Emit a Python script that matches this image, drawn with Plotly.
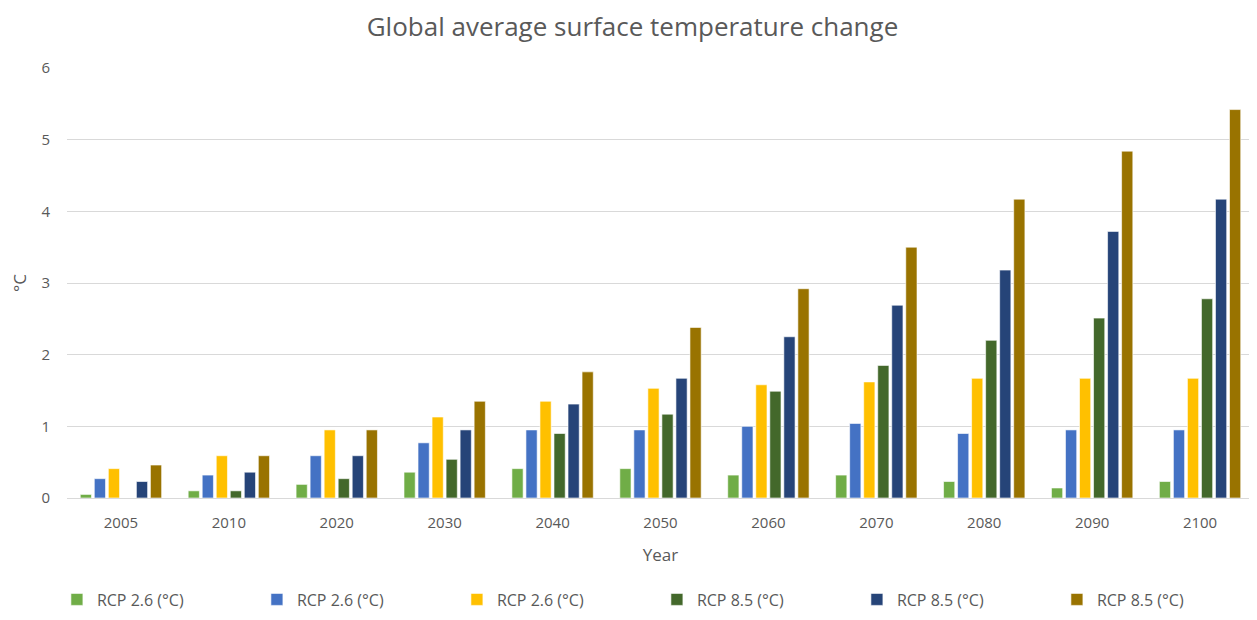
import plotly.graph_objects as go

years = ["2005", "2010", "2020", "2030", "2040", "2050", "2060", "2070", "2080", "2090", "2100"]

rcp26_a = [0.05, 0.10, 0.19, 0.36, 0.41, 0.41, 0.32, 0.32, 0.23, 0.14, 0.23]
rcp26_b = [0.27, 0.32, 0.59, 0.77, 0.95, 0.95, 1.00, 1.04, 0.90, 0.95, 0.95]
rcp26_c = [0.41, 0.59, 0.95, 1.13, 1.35, 1.53, 1.58, 1.62, 1.67, 1.67, 1.67]
rcp85_a = [0.00, 0.10, 0.27, 0.54, 0.90, 1.17, 1.49, 1.85, 2.20, 2.51, 2.78]
rcp85_b = [0.23, 0.36, 0.59, 0.95, 1.31, 1.67, 2.25, 2.69, 3.18, 3.72, 4.17]
rcp85_c = [0.46, 0.59, 0.95, 1.35, 1.76, 2.38, 2.92, 3.50, 4.17, 4.84, 5.42]

series = [
    ("RCP 2.6 (°C)", rcp26_a, "#70AD47"),
    ("RCP 2.6 (°C)", rcp26_b, "#4472C4"),
    ("RCP 2.6 (°C)", rcp26_c, "#FFC000"),
    ("RCP 8.5 (°C)", rcp85_a, "#43682B"),
    ("RCP 8.5 (°C)", rcp85_b, "#264478"),
    ("RCP 8.5 (°C)", rcp85_c, "#997300"),
]

fig = go.Figure()
for name, vals, col in series:
    fig.add_trace(go.Bar(
        x=years, y=vals, name=name,
        marker=dict(color=col, line=dict(color="rgba(255,255,255,0.6)", width=1)),
    ))

font_family = "Open Sans"
gray = "#595959"

fig.update_layout(
    width=1249, height=612,
    paper_bgcolor="white", plot_bgcolor="white",
    margin=dict(l=59, r=3, t=60, b=122),
    barmode="group", bargap=0.22, bargroupgap=0.2,
    title=dict(text="Global average surface temperature change", x=0.5, xref="container",
               y=1 - 19 / 612, yref="container", yanchor="middle", xanchor="center",
               font=dict(family=font_family, size=26, color=gray)),
    font=dict(family=font_family, size=15, color=gray),
    xaxis=dict(title=dict(text="Year", font=dict(size=17, color=gray), standoff=18),
               tickfont=dict(size=15, color=gray), showgrid=False,
               showline=False, ticks="", ticklabelstandoff=14),
    yaxis=dict(title=dict(text="°C", font=dict(size=17, color=gray), standoff=20),
               range=[0, 6], dtick=1, tickfont=dict(size=15, color=gray),
               showgrid=True, gridcolor="#D9D9D9", gridwidth=1,
               zeroline=True, zerolinecolor="#D9D9D9", zerolinewidth=1,
               ticks="", ticklabelstandoff=16),
    legend=dict(orientation="h", x=-0.0085, xanchor="left",
                y=-0.236, yanchor="middle",
                entrywidth=155, entrywidthmode="pixels",
                font=dict(size=16, color=gray), itemwidth=30, traceorder="normal"),
)

fig.write_html("out.html")
